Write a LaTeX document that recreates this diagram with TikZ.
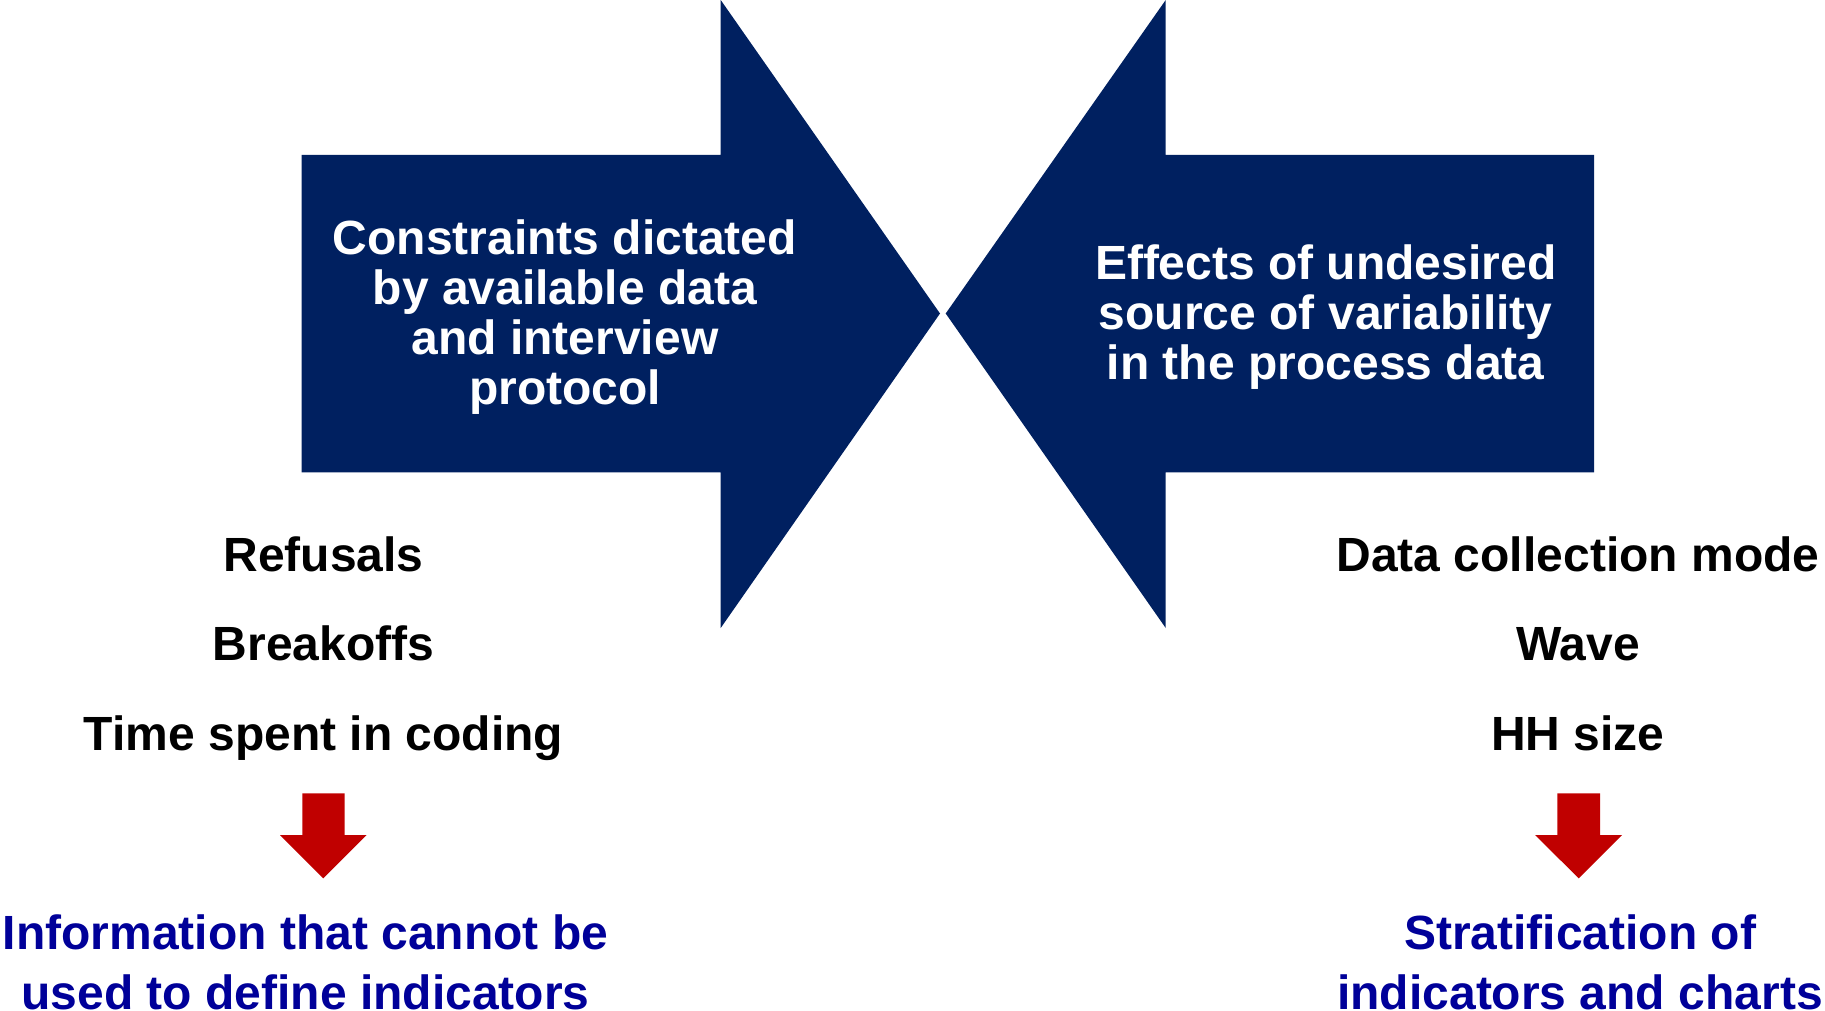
\documentclass[tikz,border=0pt]{standalone}
\usepackage{fontspec}
\setmainfont{Liberation Sans}
\definecolor{navy}{HTML}{002060}
\definecolor{darkred}{HTML}{C00000}
\definecolor{textblue}{HTML}{000099}
\begin{document}
\begin{tikzpicture}[x=1pt,y=-1pt,
  whitetxt/.style={text=white,font=\fontsize{48}{50}\selectfont\bfseries,align=center,inner sep=0pt},
  listtxt/.style={text=black,font=\fontsize{48}{50}\selectfont\bfseries,anchor=base,inner sep=0pt},
  bluetxt/.style={text=textblue,font=\fontsize{48}{60}\selectfont\bfseries,align=center,inner sep=0pt}]
\useasboundingbox (0,0) rectangle (1825,1011);
% big arrows
\fill[navy] (301.7,155) -- (720.7,155) -- (720.7,0) -- (940,313.5) -- (720.7,628) -- (720.7,472.3) -- (301.7,472.3) -- cycle;
\fill[navy] (1594,155) -- (1165.7,155) -- (1165.7,0) -- (945.7,313.5) -- (1165.7,628) -- (1165.7,472.3) -- (1594,472.3) -- cycle;
\node[whitetxt] (lt) at (565,317) {Constraints dictated\\by available data\\and interview\\protocol};
\node[whitetxt] (rt) at (1325.7,317.5) {Effects of undesired\\source of variability\\in the process data};
% lists
\node[listtxt] (l1) at (323.5,571) {Refusals};
\node[listtxt] (l2) at (323.5,660.7) {Breakoffs};
\node[listtxt] (l3) at (323.5,750.4) {Time spent in coding};
\node[listtxt] (r1) at (1578,571) {Data collection mode};
\node[listtxt] (r2) at (1578,660.7) {Wave};
\node[listtxt] (r3) at (1578,750.4) {HH size};
% red arrows
\fill[darkred] (302.3,793.3) -- (344.7,793.3) -- (344.7,835) -- (366.7,835) -- (323.3,878.3) -- (280,835) -- (302.3,835) -- cycle;
\fill[darkred] (1557.3,793.3) -- (1600,793.3) -- (1600,835) -- (1622,835) -- (1578.7,878.3) -- (1535,835) -- (1557.3,835) -- cycle;
% conclusions
\node[bluetxt] (lb) at (305.5,962.5) {Information that cannot be\\used to define indicators};
\node[bluetxt] (rb) at (1580,962.5) {Stratification of\\indicators and charts};
\end{tikzpicture}
\end{document}
